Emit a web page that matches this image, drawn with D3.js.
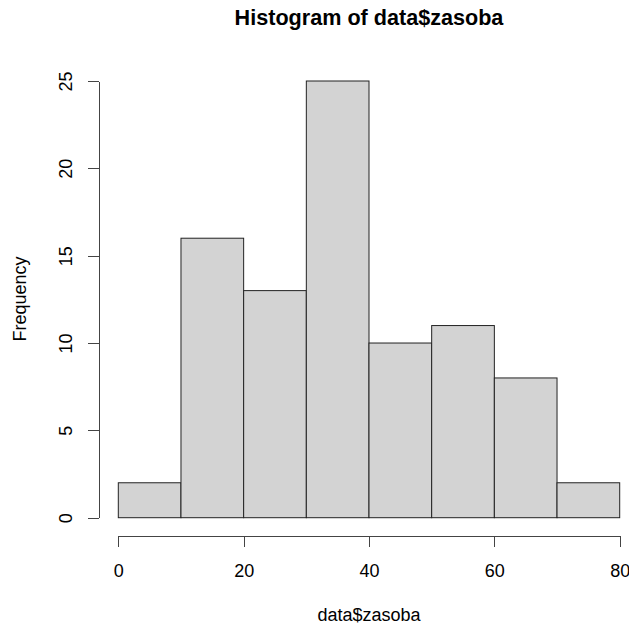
<!DOCTYPE html>
<html>
<head>
<meta charset="utf-8">
<script src="https://d3js.org/d3.v7.min.js"></script>
<style>
  html, body { margin: 0; padding: 0; background: #fff; }
  svg { display: block; font-family: "Liberation Sans", Arial, sans-serif; }
  .axis path, .axis line { stroke: #444; stroke-width: 1px; shape-rendering: crispEdges; }
  .axis text { font-size: 18px; fill: #000; }
</style>
</head>
<body>
<svg id="chart"></svg>
<script>
// histogram bins (lower edges) and counts
const binStarts = [0, 10, 20, 30, 40, 50, 60, 70];
const binWidth = 10;
const counts = [2, 16, 13, 25, 10, 11, 8, 2];
const xTicks = [0, 20, 40, 60, 80];
const yTicks = [0, 5, 10, 15, 20, 25];

const width = 629, height = 624;

const svg = d3.select("#chart")
  .attr("width", width)
  .attr("height", height);

const x = d3.scaleLinear().domain([0, 80]).range([118.3, 619.7]);
const y = d3.scaleLinear().domain([0, 25]).range([517.7, 81]);

const bins = binStarts.map((s, i) => ({ x0: s, x1: s + binWidth, n: counts[i] }));

// bars
svg.append("g")
  .selectAll("rect")
  .data(bins)
  .join("rect")
  .attr("x", d => x(d.x0))
  .attr("y", d => y(d.n))
  .attr("width", d => x(d.x1) - x(d.x0))
  .attr("height", d => y(0) - y(d.n))
  .attr("fill", "#d3d3d3")
  .attr("stroke", "#222")
  .attr("stroke-width", 1);

// x axis, R style (line only between first and last tick)
const xAxis = svg.append("g")
  .attr("class", "axis")
  .attr("transform", "translate(0,536)")
  .call(d3.axisBottom(x).tickValues(xTicks).tickSize(11).tickSizeOuter(0).tickPadding(17));
xAxis.selectAll("text").attr("font-family", null).attr("font-size", null);

// y axis with rotated labels
const yAxis = svg.append("g")
  .attr("class", "axis")
  .attr("transform", "translate(99,0)")
  .call(d3.axisLeft(y).tickValues(yTicks).tickSize(11).tickSizeOuter(0));
yAxis.selectAll("text")
  .attr("font-family", null).attr("font-size", null)
  .attr("x", null).attr("dy", null)
  .attr("text-anchor", "middle")
  .attr("transform", "translate(-27,0) rotate(-90)");

// title
svg.append("text")
  .attr("x", 369)
  .attr("y", 25)
  .attr("text-anchor", "middle")
  .style("font-size", "21.6px")
  .style("font-weight", "bold")
  .text("Histogram of data$zasoba");

// x label
svg.append("text")
  .attr("x", 369)
  .attr("y", 621)
  .attr("text-anchor", "middle")
  .style("font-size", "18px")
  .text("data$zasoba");

// y label
svg.append("text")
  .attr("transform", "translate(26,299) rotate(-90)")
  .attr("text-anchor", "middle")
  .style("font-size", "18px")
  .text("Frequency");
</script>
</body>
</html>
